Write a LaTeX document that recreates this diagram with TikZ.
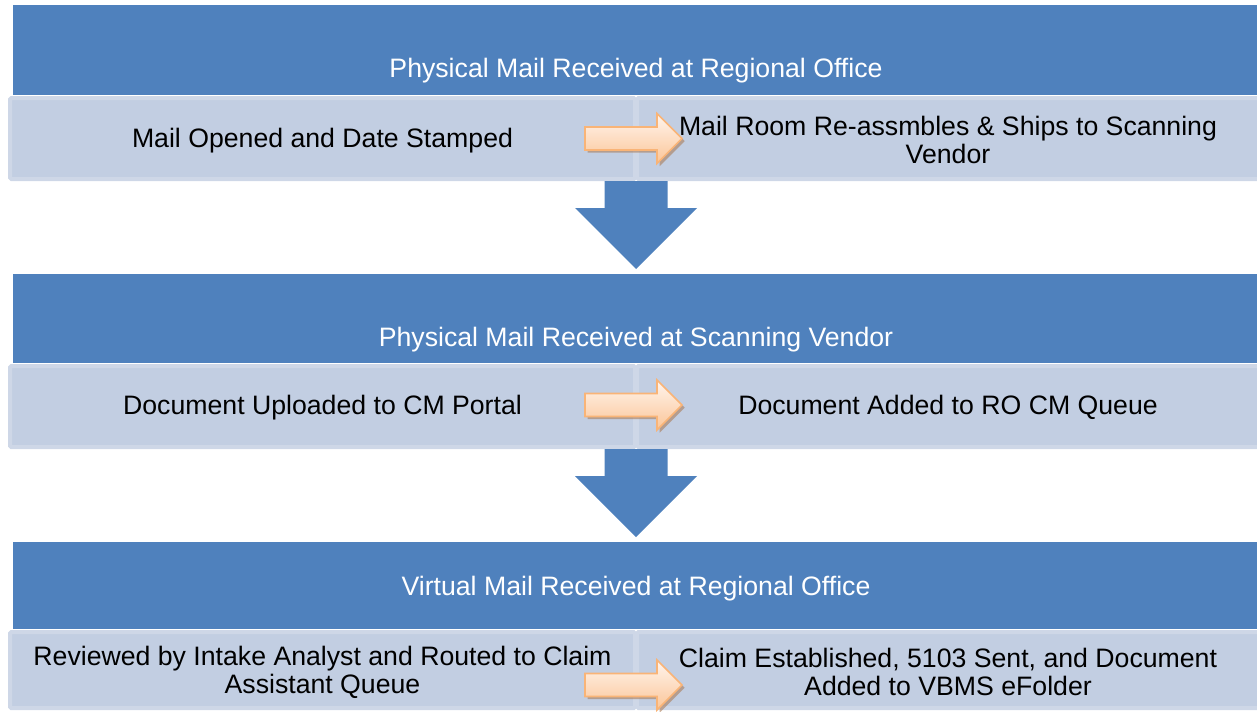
\documentclass[tikz,border=0pt]{standalone}
\usepackage{fontspec}
\setmainfont{Liberation Sans}
\usetikzlibrary{shadows,calc,fit}
\definecolor{hdr}{HTML}{4F81BD}
\definecolor{subfill}{HTML}{C2CEE2}
\definecolor{subedge}{HTML}{CED7E7}
\definecolor{otop}{HTML}{FFF5EE}
\definecolor{obot}{HTML}{FBC597}
\definecolor{oedge}{HTML}{F9B477}
\definecolor{oshadow}{HTML}{A8764E}
\begin{document}
\begin{tikzpicture}[x=0.75pt,y=-0.75pt,
  hdrbox/.style={fill=hdr, draw=none, inner sep=0pt},
  hdrtext/.style={text=white, inner sep=0pt, font=\fontsize{20}{21}\selectfont},
  subbox/.style={fill=subfill, draw=subedge, line width=3pt, inner sep=0pt, rounded corners=1pt},
  subtext/.style={text=black, inner sep=0pt, align=center, font=\fontsize{20}{21}\selectfont},
  oarrow/.style={top color=otop, bottom color=obot, draw=oedge, line width=1.2pt,
    drop shadow={shadow xshift=2pt, shadow yshift=-2pt, fill=oshadow, opacity=0.55}},
  darrow/.style={fill=hdr, draw=none},
  rarrow/.pic={\path[oarrow] (-51,-11.5) -- (21,-11.5) -- (21,-25) -- (46,0) -- (21,25) -- (21,11.5) -- (-51,11.5) -- cycle;},
  downarrow/.pic={\path[darrow] (-31.5,0) -- (31.5,0) -- (31.5,27) -- (61,27) -- (0,88) -- (-61,27) -- (-31.5,27) -- cycle;}
]
\useasboundingbox (0,0) rectangle (1257,711);

% Panel 1
\node[hdrbox, fit={(13,5) (1259,95)}] (h1) {};
\node[hdrtext] (t1) at ($(h1.north)+(0,66)$) {Physical Mail Received at Regional Office};
\node[subbox, fit={(10,98) (635,179)}] (l1) {};
\node[subbox, fit={(637,98) (1259,179)}] (r1) {};
\node[subtext] (lt1) at ($(l1.center)+(0,2)$) {Mail Opened and Date Stamped};
\node[subtext] (rt1) at ($(r1.center)+(0,1)$) {Mail Room Re-assmbles \& Ships to Scanning\\Vendor};

% Panel 2
\node[hdrbox, fit={(13,274) (1259,363)}] (h2) {};
\node[hdrtext] (t2) at ($(h2.north)+(0,66)$) {Physical Mail Received at Scanning Vendor};
\node[subbox, fit={(10,366) (635,447)}] (l2) {};
\node[subbox, fit={(637,366) (1259,447)}] (r2) {};
\node[subtext] (lt2) at ($(l2.center)+(0,1)$) {Document Uploaded to CM Portal};
\node[subtext] (rt2) at ($(r2.center)+(0,1)$) {Document Added to RO CM Queue};

% Panel 3
\node[hdrbox, fit={(13,542) (1259,629)}] (h3) {};
\node[hdrtext] (t3) at ($(h3.north)+(0,47)$) {Virtual Mail Received at Regional Office};
\node[subbox, fit={(10,632) (635,708)}] (l3) {};
\node[subbox, fit={(637,632) (1259,708)}] (r3) {};
\node[subtext] (lt3) at ($(l3.center)+(0,2)$) {Reviewed by Intake Analyst and Routed to Claim\\Assistant Queue};
\node[subtext] (rt3) at ($(r3.center)+(0,2)$) {Claim Established, 5103 Sent, and Document\\Added to VBMS eFolder};

% connectors
\pic at ($(l1.east)!0.5!(r1.west)$) {rarrow};
\pic at ($(l2.east)!0.5!(r2.west)+(0,-1.5)$) {rarrow};
\pic at ($(l3.east)!0.5!(r3.west)+(0,15)$) {rarrow};
\pic at ($(l1.south east)!0.5!(r1.south west)$) {downarrow};
\pic at ($(l2.south east)!0.5!(r2.south west)$) {downarrow};
\end{tikzpicture}
\end{document}
